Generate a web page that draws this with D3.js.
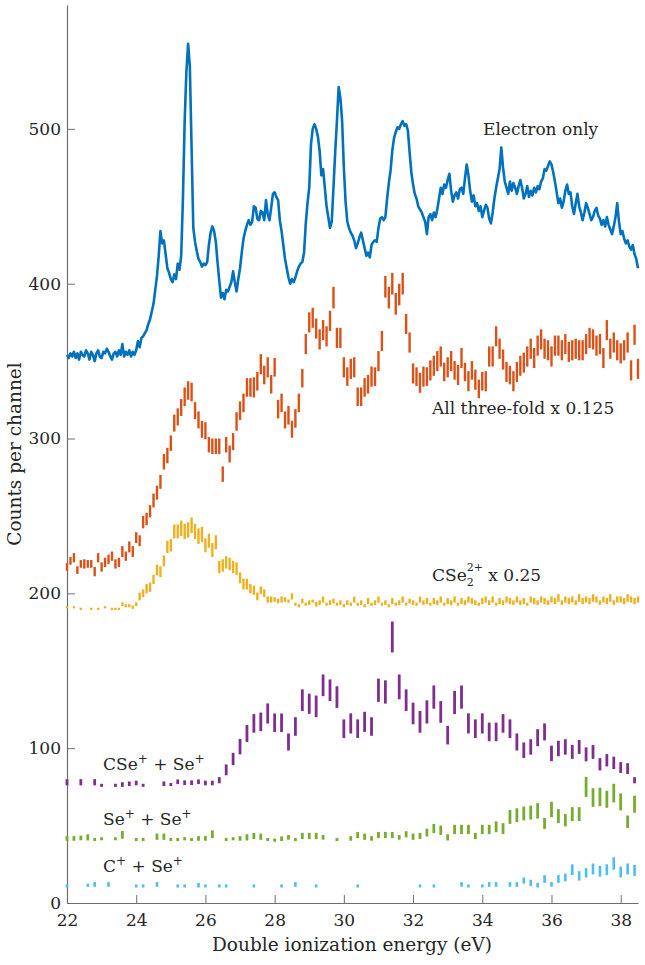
<!DOCTYPE html>
<html>
<head>
<meta charset="utf-8">
<script src="https://cdn.jsdelivr.net/npm/d3@7"></script>
<style>
  body { margin: 0; background: #fff; }
  svg { display: block; }
  text { font-family: "DejaVu Serif", serif; fill: #262626; }
</style>
</head>
<body>
<svg id="chart" width="645" height="965"></svg>
<script>
// energy grids (eV): fine grid for the electron-only line, 0.1 and 0.2 eV bins for the coincidences
const energyFine = d3.range(331).map(i => 22 + i * 0.05);
const energy01 = d3.range(166).map(i => 22 + i * 0.1);
const energy02 = d3.range(83).map(i => 22 + i * 0.2);

const xTicks = [22, 24, 26, 28, 30, 32, 34, 36, 38];
const yTicks = [0, 100, 200, 300, 400, 500];

// Electron only (one value per 0.05 eV, 22.00 .. 38.50)
const electronOnly = [
  354,352,355,353,356,352,355,351,356,354,353,357,355,351,356,354,350,355,357,353,
  352,356,355,358,356,353,351,355,356,353,357,354,361,353,356,354,357,353,356,354,
  357,363,359,365,366,368,370,374,377,382,387,396,405,418,434,426,428,419,410,407,
  403,401,406,403,413,409,418,455,505,537,555,540,488,436,427,421,416,414,411,413,
  412,414,425,433,437,434,427,414,402,391,394,390,396,395,398,401,408,401,395,403,
  410,420,429,434,438,441,438,440,450,449,442,441,447,446,441,454,445,441,449,458,
  459,456,454,441,434,425,416,410,404,400,403,401,404,408,411,413,414,420,439,452,
  462,490,500,503,500,495,486,470,474,462,450,443,436,440,462,485,505,527,520,505,
  475,453,440,436,433,431,428,423,426,430,433,428,423,418,420,417,425,427,428,427,
  436,442,443,441,443,455,465,473,486,494,498,501,500,503,505,502,503,499,485,472,
  464,458,455,450,448,446,443,440,432,443,445,441,446,443,448,455,462,458,464,462,
  467,471,460,453,457,459,455,461,462,458,468,477,470,460,453,457,450,452,447,450,
  443,447,451,449,442,439,446,455,462,468,474,488,475,466,462,458,466,460,465,462,
  458,463,467,462,455,458,463,456,460,457,462,459,463,461,466,468,474,473,476,479,
  477,472,466,459,452,455,449,453,460,464,458,459,450,445,452,458,450,446,441,446,
  452,449,445,441,443,447,449,444,442,438,441,437,443,438,435,432,437,443,452,440,
  432,434,429,426,428,424,422,425,419,416,410
];

// All three-fold x 0.125 (0.1 eV bins)
const threeFold = [
  217,221,223,215,219,219,219,219,214,223,
  217,220,222,224,219,220,227,224,230,227,
  236,234,246,248,253,260,265,272,285,289,
  297,310,314,320,327,331,330,318,312,306,
  305,296,295,295,295,277,296,290,298,311,
  318,323,333,333,333,337,348,341,346,335,
  346,319,323,312,315,306,313,323,339,361,
  375,378,371,364,370,366,376,391,365,365,
  346,340,345,346,327,327,333,335,340,340,
  350,363,398,391,400,387,393,400,374,362,
  342,340,336,340,340,344,347,350,353,343,
  346,350,344,341,352,343,337,344,338,332,
  337,337,353,353,366,358,351,343,341,337,
  343,347,349,353,358,352,360,364,358,357,
  353,360,360,357,361,356,357,358,357,357,
  361,365,364,360,361,352,370,358,362,357,
  355,357,362,344,367,345
];
const threeFoldErr = [
  2.5,2.5,3,2.5,2.5,3,2.5,2.5,3,3,
  3,3,3,3,3,3,3.5,3,3.5,3.5,
  3.5,3.5,4,4,4,4.5,4.5,4.5,5,5,
  5,5.5,5.5,5.5,6,6,6,5.5,5.5,5.5,
  5.5,5,5,5,5,5,5,5.5,5.5,6,
  6,6,6,6,6.5,6,6.5,6,6.5,6,
  6,6,6,5.5,6,5.5,6,6,6,6.5,
  6.5,6.5,6.5,6.5,6.5,6.5,6.5,7,6.5,6.5,
  6.5,6,6.5,6.5,6,6,6,6,6.5,6,
  6.5,6.5,7,7,7,7,7,7,6.5,6.5,
  6.5,6,6.5,6.5,6,6.5,6.5,6.5,6.5,6,
  6.5,6.5,6,6.5,6.5,6,6.5,6,6.5,6,
  6,6.5,6.5,6.5,6.5,6.5,6.5,6.5,6,6.5,
  6.5,6.5,6.5,6.5,6.5,6.5,6.5,6.5,6.5,6.5,
  6.5,6.5,6.5,6.5,6.5,6.5,6.5,6.5,6.5,6.5,
  6.5,6.5,6.5,6.5,6.5,6.5,6.5,6.5,6.5,6.5,
  6.5,6.5,6.5,6.5,6.5,6.5
];

// CSe2 2+ x 0.25 (0.1 eV bins, null = empty bin)
const cse2 = [
  191,null,191,null,190,null,null,190,null,190,
  null,191,null,190,190,190,193,192,192,191,
  193,198,200,203,204,209,215,214,221,230,
  231,240,240,242,240,241,244,240,237,238,
  231,234,228,233,217,218,220,219,217,216,
  210,206,206,203,202,198,202,200,196,196,
  196,195,196,196,195,198,193,192,195,193,
  194,195,193,194,196,193,194,195,193,194,
  192,194,193,196,193,194,192,195,193,194,
  196,193,194,192,195,193,194,196,193,195,
  194,193,196,194,195,193,195,194,196,193,
  195,194,196,193,195,194,196,195,194,193,
  195,196,194,196,193,195,194,196,195,194,
  196,194,195,193,196,195,194,196,195,194,
  196,195,197,194,196,195,196,194,197,195,
  196,195,197,196,194,196,195,197,194,196,
  196,195,197,196,195,196
];
const cse2Err = [
  0.6,0,0.6,0,0.6,0,0,0.6,0,0.6,
  0,0.6,0,0.6,0.6,0.6,1.2,1,1,1,
  1.2,2.5,2.5,3,3,3,3.5,3.5,3.5,4,
  4,4.5,4.5,5,5,5,5,5,5,5,
  4.5,4.5,4.5,4.5,4,4,4,4,4,4,
  3.5,3.5,3.5,3,3,2.5,2.5,2.5,2,2,
  1.5,1.5,2,1.5,1,2,1,1,1.5,1,
  1.5,1,1.5,1.5,2,1,1.5,1.5,1,1.5,
  1,1.5,1,2,1,1.5,1,2,1,1.5,
  2,1,1.5,1,2,1,1.5,2,1,1.5,
  1.5,1,2,1.5,2,1,2,1.5,2,1,
  2,1.5,2,1,2,1.5,2,2,1.5,1,
  2,2,1.5,2,1,2,1.5,2,2,1.5,
  2,1.5,2,1,2,2,1.5,2,2,1.5,
  2,2,2.5,1.5,2,2,2,1.5,2.5,2,
  2,2,2.5,2,1.5,2,2,2.5,1.5,2,
  2,2,2.5,2,2,2
];

// CSe+ + Se+ (0.2 eV bins)
const cseSe = [
  78,null,78,null,78,76,null,76,76.5,77,
  77.5,76,null,null,77,76.5,78.3,77.7,77.7,78.3,
  77.5,77.5,79.3,86,93,101,109.5,116,117,122.4,
  116.4,116.4,104,114,131,128.7,127,140.6,137.4,133,
  112.6,116,112.6,117,114,137.4,136.3,171.8,139.6,131,
  122.4,117,123.4,133,123.4,108.4,129.5,133,116,112.6,
  116,110.5,110.5,116,112.6,104,98.7,100.8,106.8,110.5,
  96.6,99.8,100.8,97.6,100.8,96,97.6,89.6,92.2,90.5,
  87.5,86.8,79.3
];
const cseSeErr = [
  2,0,2,0,2,1,0,1,1.5,1.5,
  1.5,1,0,0,1.5,1,1.5,1.5,1.5,1.5,
  1.5,1.5,2,3.5,4,5,5.5,6,6,6.5,
  6,6,5.5,6,7,6.5,7,7,7,7,
  6,6.5,6,6.5,6,7.5,7.5,10,8,7,
  7,7,7.5,7.5,7,6,7.5,7.5,6.5,6,
  6.5,6,6,6,6,5.5,5,5,5.5,5.5,
  5,5,5,4.5,4.5,4.5,4.5,4,4,4,
  3.5,3.5,2
];

// Se+ + Se+ (0.2 eV bins)
const seSe = [
  41.7,41.7,42,42.4,41,41.5,null,41.5,44,null,
  41,41,null,42.8,42.8,41,41,41.5,41,41.7,
  41.7,44.4,null,41,41.5,41.7,42.4,43.3,42.8,41,
  40.6,41.5,42.4,41,43.3,43.3,43.3,42.4,null,41,
  null,41.7,43.9,42.8,41.7,43.9,43.9,43.9,42.4,44.4,
  42.8,43.3,45.5,48.1,47,42.4,47.5,47.5,47.5,43.3,
  47.5,47.5,49.2,48.1,55.6,56.7,57.8,58.4,59.5,51.4,
  60.4,56.1,53.5,57.4,57.4,75,68.1,68.5,67,71,
  65.3,52.5,63.8
];
const seSeErr = [
  1.5,1.5,1.5,2,1,1,0,1,2.5,0,
  1,1,0,2,2,1,1,1,1,1.5,
  1.5,2.5,0,1,1,1.5,2,2,2,1,
  1,1.5,1.5,1,2,2,2,1.5,0,1,
  0,1.5,2,2,1.5,2,2,2,1.5,2,
  2,2,2.5,3,3,2,3,3,3,2,
  3,3,3.5,3.5,4.5,4.5,4.5,4.5,5,3.5,
  5,4.5,4,4.5,4.5,6.5,6,6,5.5,6,
  5.5,4,5.5
];

// C+ + Se+ (0.2 eV bins)
const cSe = [
  11,null,null,11.5,12,null,12,null,null,null,
  11,11,null,12,null,null,11,11,null,11.5,
  11,null,11,11,null,null,null,11,null,null,
  null,11,null,12,null,null,11,null,null,null,
  null,null,11,null,null,null,null,null,null,null,
  null,11,null,11,null,null,null,12,11,null,
  11,12,12,null,12,12,14.5,13,11.5,15.5,
  12,15.5,16.5,21.5,17.5,19.5,22,20.5,21.5,25.5,
  20,22,21
];
const cSeErr = [
  1,0,0,1,1.5,0,1.5,0,0,0,
  1,1,0,1.5,0,0,1,1,0,1.5,
  1,0,1,1,0,0,0,1,0,0,
  0,1,0,1.5,0,0,1,0,0,0,
  0,0,1,0,0,0,0,0,0,0,
  0,1,0,1,0,0,0,1.5,1,0,
  1,1.5,1.5,0,1.5,1.5,2,2,1.5,2.5,
  1.5,2.5,2.5,3.5,3,3,3.5,3.5,3.5,4,
  3.5,3.5,3.5
];

const svg = d3.select("#chart");
const x = d3.scaleLinear().domain([22, 38.5]).range([67, 638]);
const y = d3.scaleLinear().domain([0, 580]).range([903, 5]);

// axes (MATLAB style: inward ticks, left + bottom only)
const axisColor = "#6e6e6e";
const gx = svg.append("g").attr("transform", "translate(0,903)")
  .call(d3.axisBottom(x).tickValues(xTicks).tickSizeInner(-8).tickSizeOuter(0).tickPadding(11).tickFormat(d3.format("d")));
const gy = svg.append("g").attr("transform", "translate(67,0)")
  .call(d3.axisLeft(y).tickValues(yTicks).tickSizeInner(-8).tickSizeOuter(0).tickPadding(6).tickFormat(d3.format("d")));
[gx, gy].forEach(g => {
  g.attr("font-family", null);
  g.select(".domain").attr("stroke", axisColor).attr("stroke-width", 1.2);
  g.selectAll(".tick line").attr("stroke", axisColor).attr("stroke-width", 1);
  g.selectAll(".tick text").attr("font-size", 17).attr("fill", "#262626");
});

svg.append("text").attr("x", 352).attr("y", 951).attr("text-anchor", "middle")
  .attr("font-size", 18.5).text("Double ionization energy (eV)");
svg.append("text").attr("transform", "translate(21,454) rotate(-90)").attr("text-anchor", "middle")
  .attr("font-size", 18.5).text("Counts per channel");

// error-bar series
function drawBars(xs, vals, errs, color, w) {
  const rows = xs.map((e, i) => ({ e, v: vals[i], s: errs[i] })).filter(d => d.v != null && d.s > 0);
  svg.append("g").selectAll("rect").data(rows).join("rect")
    .attr("x", d => x(d.e) - w / 2)
    .attr("width", w)
    .attr("y", d => Math.min(y(d.v + d.s), y(d.v) - 1.1))
    .attr("height", d => Math.max(y(d.v - d.s) - y(d.v + d.s), 2.2))
    .attr("fill", color);
}
drawBars(energy02, cSe, cSeErr, "#4DBEEE", 2.6);
drawBars(energy02, seSe, seSeErr, "#77AC30", 2.8);
drawBars(energy02, cseSe, cseSeErr, "#7E2F8E", 2.8);
drawBars(energy01, cse2, cse2Err, "#EDB120", 2.4);
drawBars(energy01, threeFold, threeFoldErr, "#D95319", 2.4);

// electron-only line
svg.append("path").datum(electronOnly)
  .attr("fill", "none").attr("stroke", "#0072BD").attr("stroke-width", 2.6)
  .attr("stroke-linejoin", "round")
  .attr("d", d3.line().x((d, i) => x(energyFine[i])).y(d => y(d)));

// series labels with sub/superscripts (non-breaking spaces keep the gaps)
const sp = "\u00A0";
function label(x0, y0, parts) {
  let cx = x0;
  parts.forEach(p => {
    if (p.stack) {
      const a = svg.append("text").attr("x", cx).attr("y", y0 + 5).attr("font-size", 11).text(p.sub);
      const b = svg.append("text").attr("x", cx).attr("y", y0 - 10).attr("font-size", 11).text(p.sup);
      cx += Math.max(a.node().getComputedTextLength(), b.node().getComputedTextLength());
    } else {
      const t = svg.append("text").attr("x", cx).attr("y", p.sup ? y0 - 7 : y0)
        .attr("font-size", p.sup ? 12 : 17).text(p.t);
      cx += t.node().getComputedTextLength();
    }
  });
}
label(483, 135, [{ t: "Electron only" }]);
label(432, 414, [{ t: "All three-fold x 0.125" }]);
label(432, 581, [{ t: "CSe" }, { stack: true, sub: "2", sup: "2+" }, { t: sp + "x 0.25" }]);
label(103, 770, [{ t: "CSe" }, { t: "+", sup: true }, { t: sp + "+" + sp + "Se" }, { t: "+", sup: true }]);
label(103, 825, [{ t: "Se" }, { t: "+", sup: true }, { t: sp + "+" + sp + "Se" }, { t: "+", sup: true }]);
label(103, 872, [{ t: "C" }, { t: "+", sup: true }, { t: sp + "+" + sp + "Se" }, { t: "+", sup: true }]);
</script>
</body>
</html>
